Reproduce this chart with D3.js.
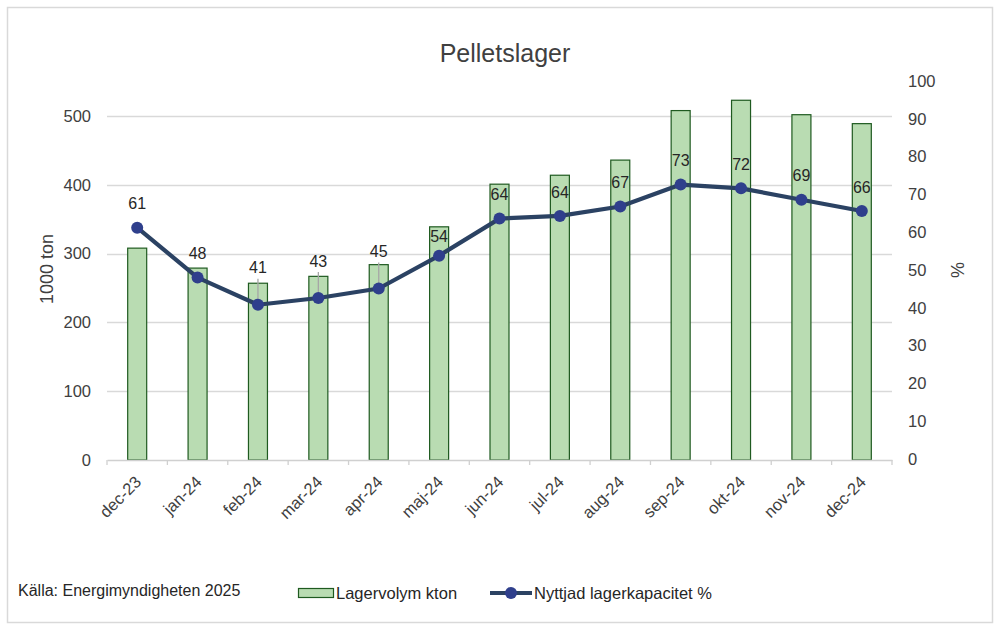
<!DOCTYPE html>
<html>
<head>
<meta charset="utf-8">
<script src="https://cdn.jsdelivr.net/npm/d3@7"></script>
<style>
  html, body { margin: 0; padding: 0; background: #fff; }
  svg { display: block; font-family: "Liberation Sans", Arial, sans-serif; }
</style>
</head>
<body>
<svg id="chart" width="1000" height="630"></svg>
<script>
const categories = ["dec-23","jan-24","feb-24","mar-24","apr-24","maj-24","jun-24","jul-24","aug-24","sep-24","okt-24","nov-24","dec-24"];
const volume = [308, 279, 257, 267, 284, 339, 401, 414, 436, 508, 523, 502, 489];
const capacity = [61.2, 48.0, 40.8, 42.6, 45.1, 53.8, 63.6, 64.3, 66.8, 72.6, 71.6, 68.6, 65.6];
const capacityLabels = ["61","48","41","43","45","54","64","64","67","73","72","69","66"];
const leftTicks = [0, 100, 200, 300, 400, 500];
const rightTicks = [0, 10, 20, 30, 40, 50, 60, 70, 80, 90, 100];
const leaderIdx = [2, 3, 4];

const svg = d3.select("#chart");
const m = { left: 107, right: 892, top: 81, bottom: 460 };

// outer border
svg.append("rect").attr("x", 7.5).attr("y", 7.5).attr("width", 985).attr("height", 615)
  .attr("fill", "#fff").attr("stroke", "#d9d9d9").attr("stroke-width", 1.5);

const x = d3.scaleBand().domain(categories).range([m.left, m.right]).paddingInner(0).paddingOuter(0);
const yL = d3.scaleLinear().domain([0, 551]).range([m.bottom, m.top]);
const yR = d3.scaleLinear().domain([0, 100]).range([m.bottom - 1, m.top]);

// gridlines
svg.append("g").selectAll("line").data(leftTicks.filter(d => d > 0)).join("line")
  .attr("x1", m.left).attr("x2", m.right)
  .attr("y1", d => Math.round(yL(d)) + 0.5).attr("y2", d => Math.round(yL(d)) + 0.5)
  .attr("stroke", "#d9d9d9").attr("stroke-width", 1.3);

// bars
const bw = 19;
svg.append("g").selectAll("rect").data(volume).join("rect")
  .attr("x", (d, i) => x(categories[i]) + x.bandwidth() / 2 - bw / 2)
  .attr("y", d => yL(d))
  .attr("width", bw)
  .attr("height", d => yL(0) - yL(d))
  .attr("fill", "#b9dcb2").attr("stroke", "#1f5a20").attr("stroke-width", 1.2);

// x axis
const xAxis = d3.axisBottom(x).tickSize(5).tickSizeOuter(0);
const gx = svg.append("g").attr("transform", `translate(0,${m.bottom})`).call(xAxis);
gx.select(".domain").attr("stroke", "#d0d0d0").attr("stroke-width", 1.3);
gx.selectAll(".tick line").remove();
gx.selectAll(".bt").data(d3.range(categories.length + 1)).join("line").attr("class", "bt")
  .attr("x1", i => m.left + i * x.step()).attr("x2", i => m.left + i * x.step())
  .attr("y1", 0).attr("y2", 5).attr("stroke", "#d0d0d0").attr("stroke-width", 1.3);
gx.selectAll(".tick text")
  .attr("font-size", 16.5).attr("fill", "#404040")
  .attr("text-anchor", "end")
  .attr("transform", "translate(1,19) rotate(-45)")
  .attr("dy", "0.35em").attr("y", 0).attr("x", 0);

// left axis
const gl = svg.append("g").attr("transform", `translate(${m.left},0)`)
  .call(d3.axisLeft(yL).tickValues(leftTicks).tickSize(0).tickPadding(16));
gl.select(".domain").remove();
gl.selectAll(".tick text").attr("font-size", 16.5).attr("fill", "#404040");

// right axis
const gr = svg.append("g").attr("transform", `translate(${m.right},0)`)
  .call(d3.axisRight(yR).tickValues(rightTicks).tickSize(0).tickPadding(16));
gr.select(".domain").remove();
gr.selectAll(".tick text").attr("font-size", 16.5).attr("fill", "#404040");

// axis titles
svg.append("text").attr("transform", "translate(53,269) rotate(-90)")
  .attr("text-anchor", "middle").attr("font-size", 18).attr("fill", "#404040").text("1000 ton");
svg.append("text").attr("transform", "translate(964,270) rotate(-90)")
  .attr("text-anchor", "middle").attr("font-size", 18).attr("fill", "#404040").text("%");

// title
svg.append("text").attr("x", 505).attr("y", 62).attr("text-anchor", "middle")
  .attr("font-size", 25).attr("fill", "#404040").text("Pelletslager");

// line
const cx = i => x(categories[i]) + x.bandwidth() / 2;
const line = d3.line().x((d, i) => cx(i)).y(d => yR(d));
svg.append("path").datum(capacity).attr("d", line)
  .attr("fill", "none").attr("stroke", "#2b4263").attr("stroke-width", 4.2).attr("stroke-linejoin", "round");

// leader lines
svg.append("g").selectAll("line").data(leaderIdx).join("line")
  .attr("x1", i => cx(i)).attr("x2", i => cx(i))
  .attr("y1", i => yR(capacity[i]) - 26).attr("y2", i => yR(capacity[i]))
  .attr("stroke", "#a6a6a6").attr("stroke-width", 1.3);

svg.append("g").selectAll("circle").data(capacity).join("circle")
  .attr("cx", (d, i) => cx(i)).attr("cy", d => yR(d)).attr("r", 6)
  .attr("fill", "#2f3f8c");

// data labels
svg.append("g").selectAll("text").data(capacity).join("text")
  .attr("x", (d, i) => cx(i))
  .attr("y", (d, i) => yR(d) - (leaderIdx.includes(i) ? 37 : (i === 5 ? 19 : 24)))
  .attr("dy", "0.35em")
  .attr("text-anchor", "middle").attr("font-size", 16).attr("fill", "#262626")
  .text((d, i) => capacityLabels[i]);

// source
svg.append("text").attr("x", 18).attr("y", 596).attr("font-size", 16).attr("fill", "#262626")
  .text("Källa: Energimyndigheten 2025");

// legend
const lg = svg.append("g");
lg.append("rect").attr("x", 298.5).attr("y", 588.5).attr("width", 35).attr("height", 9)
  .attr("fill", "#b9dcb2").attr("stroke", "#1f5a20").attr("stroke-width", 1.2);
lg.append("text").attr("x", 336).attr("y", 599).attr("font-size", 16.5).attr("fill", "#262626").text("Lagervolym kton");
lg.append("line").attr("x1", 490).attr("x2", 532).attr("y1", 593).attr("y2", 593)
  .attr("stroke", "#2b4263").attr("stroke-width", 4.2);
lg.append("circle").attr("cx", 511).attr("cy", 593).attr("r", 6).attr("fill", "#2f3f8c");
lg.append("text").attr("x", 534).attr("y", 599).attr("font-size", 16.5).attr("fill", "#262626").text("Nyttjad lagerkapacitet %");
</script>
</body>
</html>
